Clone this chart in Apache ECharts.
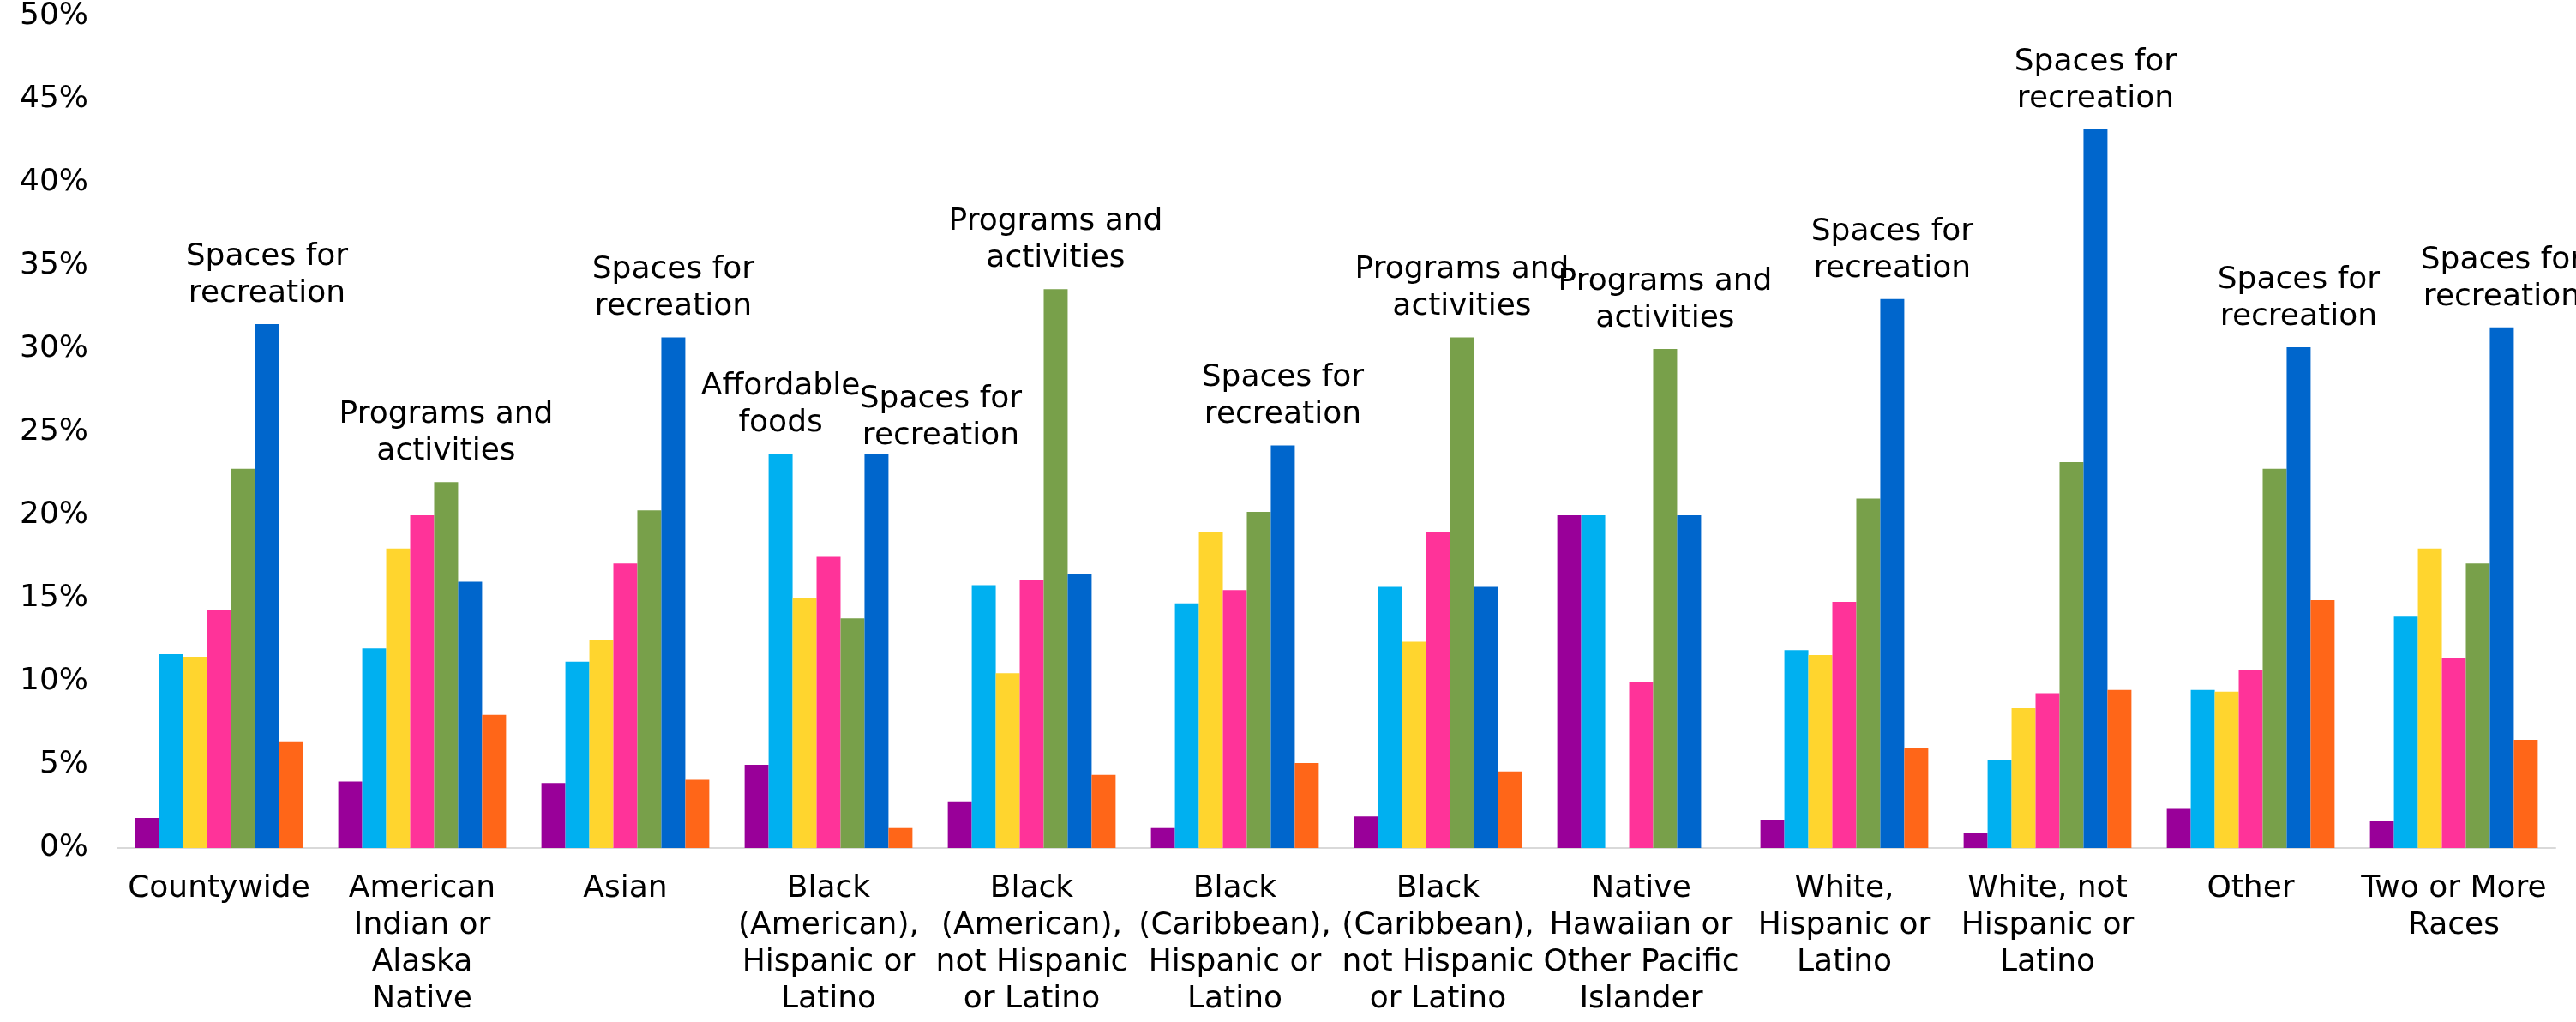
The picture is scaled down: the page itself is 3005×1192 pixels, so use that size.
<!DOCTYPE html>
<html>
<head>
<meta charset="utf-8">
<script src="https://cdn.jsdelivr.net/npm/echarts@6/dist/echarts.min.js"></script>
<style>
html,body{margin:0;padding:0;background:#fff;}
#chart{width:3005px;height:1192px;}
</style>
</head>
<body>
<div id="chart"></div>
<script>
// ---- DATA ----
const categories = [
  "Countywide",
  "American\nIndian or\nAlaska\nNative",
  "Asian",
  "Black\n(American),\nHispanic or\nLatino",
  "Black\n(American),\nnot Hispanic\nor Latino",
  "Black\n(Caribbean),\nHispanic or\nLatino",
  "Black\n(Caribbean),\nnot Hispanic\nor Latino",
  "Native\nHawaiian or\nOther Pacific\nIslander",
  "White,\nHispanic or\nLatino",
  "White, not\nHispanic or\nLatino",
  "Other",
  "Two or More\nRaces"
];
const seriesNames = [
  "Series 1",
  "Affordable foods",
  "Series 3",
  "Series 4",
  "Programs and activities",
  "Spaces for recreation",
  "Series 7"
];
const labelText = {
  "Affordable foods": "Affordable\nfoods",
  "Programs and activities": "Programs and\nactivities",
  "Spaces for recreation": "Spaces for\nrecreation"
};
const purpleVals = [1.8, 4.0, 3.9, 5.0, 2.8, 1.2, 1.9, 20.0, 1.7, 0.9, 2.4, 1.6];
const lightBlueVals = [11.65, 12.0, 11.2, 23.7, 15.8, 14.7, 15.7, 20.0, 11.9, 5.3, 9.5, 13.9];
const yellowVals = [11.5, 18.0, 12.5, 15.0, 10.5, 19.0, 12.4, 0, 11.6, 8.4, 9.4, 18.0];
const pinkVals = [14.3, 20.0, 17.1, 17.5, 16.1, 15.5, 19.0, 10.0, 14.8, 9.3, 10.7, 11.4];
const greenVals = [22.8, 22.0, 20.3, 13.8, 33.6, 20.2, 30.7, 30.0, 21.0, 23.2, 22.8, 17.1];
const blueVals = [31.5, 16.0, 30.7, 23.7, 16.5, 24.2, 15.7, 20.0, 33.0, 43.2, 30.1, 31.3];
const orangeVals = [6.4, 8.0, 4.1, 1.2, 4.4, 5.1, 4.6, 0, 6.0, 9.5, 14.9, 6.5];
const yTicks = [0, 5, 10, 15, 20, 25, 30, 35, 40, 45, 50];

// ---- STYLE ----
const colors = ["#990099", "#00B0F0", "#FFD52E", "#FF3399", "#78A04A", "#0066CC", "#FF6618"];
const allVals = [purpleVals, lightBlueVals, yellowVals, pinkVals, greenVals, blueVals, orangeVals];
const FONT = "DejaVu Sans";
// manual nudge for a label that overlaps its neighbour (category index 3, series index 5)
const labelOffsets = { "3-5": [75, 15] };

const maxPerCat = categories.map((c, i) => Math.max(...allVals.map(v => v[i])));

const series = allVals.map((vals, s) => ({
  name: seriesNames[s],
  type: "bar",
  barGap: "0%",
  barCategoryGap: "17.4%",
  itemStyle: { color: colors[s] },
  data: vals.map((v, i) => {
    if (v === maxPerCat[i]) {
      const off = labelOffsets[i + "-" + s] || [0, 0];
      return {
        value: v,
        label: {
          show: true,
          position: "top",
          distance: 14,
          offset: off,
          formatter: labelText[seriesNames[s]] || seriesNames[s],
          fontFamily: FONT,
          fontSize: 36,
          lineHeight: 43,
          color: "#000",
          align: "center"
        }
      };
    }
    return v;
  })
}));

const chart = echarts.init(document.getElementById("chart"), null, { renderer: "canvas" });
chart.setOption({
  animation: false,
  backgroundColor: "#fff",
  grid: { left: 137, right: 24, top: 19, bottom: 203, containLabel: false },
  xAxis: {
    type: "category",
    data: categories,
    axisLine: { show: true, lineStyle: { color: "#d9d9d9", width: 2 } },
    axisTick: { show: false },
    axisLabel: {
      interval: 0,
      margin: 26,
      fontFamily: FONT,
      fontSize: 36,
      lineHeight: 43,
      color: "#000",
      align: "center"
    }
  },
  yAxis: {
    type: "value",
    min: yTicks[0],
    max: yTicks[yTicks.length - 1],
    interval: yTicks[1] - yTicks[0],
    axisLine: { show: false },
    axisTick: { show: false },
    splitLine: { show: false },
    axisLabel: {
      formatter: "{value}%",
      margin: 34,
      fontFamily: FONT,
      fontSize: 36,
      color: "#000"
    }
  },
  series: series
});
</script>
</body>
</html>
